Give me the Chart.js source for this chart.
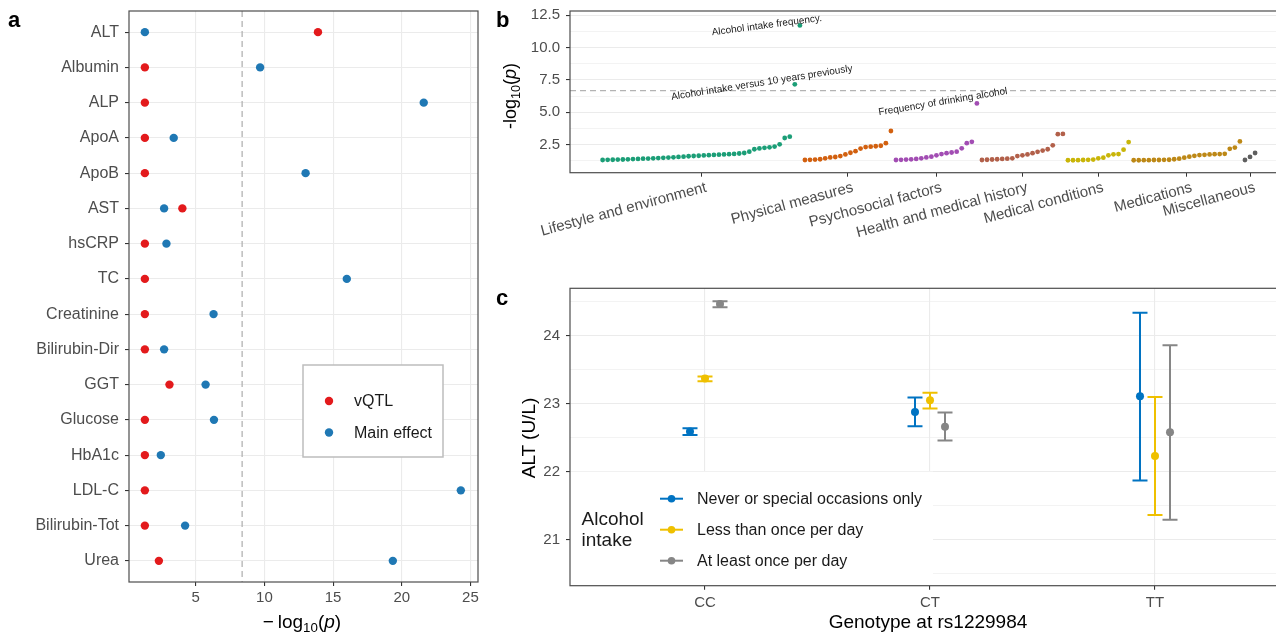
<!DOCTYPE html>
<html>
<head>
<meta charset="utf-8">
<script src="https://cdn.jsdelivr.net/npm/chart.js@4.4.1/dist/chart.umd.min.js"></script>
<style>
  html, body { margin: 0; padding: 0; background: #fff; overflow: hidden; width: 1276px; height: 633px; }
  body { position: relative; font-family: "Liberation Sans", Arial, Helvetica, sans-serif; }
  canvas { position: absolute; }
  .lbl { position: absolute; color: #000; white-space: nowrap; }
  .tag { font-weight: bold; font-size: 22px; line-height: 22px; }
  .ttl { font-size: 19px; line-height: 19px; transform: translate(-50%, -50%); }
  .rot { transform: translate(-50%, -50%) rotate(-90deg); }
  sub { font-size: 0.7em; vertical-align: -0.35em; line-height: 0; }
</style>
</head>
<body>
<canvas id="chartA" width="490" height="633" style="left:0;top:0"></canvas>
<canvas id="chartB" width="810" height="250" style="left:490px;top:0"></canvas>
<canvas id="chartC" width="810" height="353" style="left:490px;top:280px"></canvas>

<div class="lbl tag" style="left:8px;top:9px">a</div>
<div class="lbl tag" style="left:496px;top:9px">b</div>
<div class="lbl tag" style="left:496px;top:287px">c</div>

<div class="lbl ttl" style="left:302px;top:621px">&minus;&thinsp;log<sub>10</sub>(<i>p</i>)</div>
<div class="lbl ttl rot" style="left:510px;top:96px;font-size:18px">-log<sub>10</sub>(<i>p</i>)</div>
<div class="lbl ttl rot" style="left:528px;top:438px">ALT (U/L)</div>
<div class="lbl ttl" style="left:928px;top:621px">Genotype at rs1229984</div>

<script>
// ---------- panel a: vQTL vs main effect ----------
const traits = ['ALT', 'Albumin', 'ALP', 'ApoA', 'ApoB', 'AST', 'hsCRP', 'TC', 'Creatinine',
                'Bilirubin-Dir', 'GGT', 'Glucose', 'HbA1c', 'LDL-C', 'Bilirubin-Tot', 'Urea'];
const vqtlLogP = [13.9, 1.3, 1.3, 1.3, 1.3, 4.03, 1.3, 1.3, 1.3, 1.3, 3.09, 1.3, 1.3, 1.3, 1.3, 2.32];
const mainLogP = [1.3, 9.69, 21.6, 3.4, 13.0, 2.7, 2.87, 16.0, 6.3, 2.7, 5.72, 6.33, 2.46, 24.3, 4.23, 19.35];
const thresholdA = 8.38;
const seriesA = ['vQTL', 'Main effect'];

// ---------- panel b: PheWAS ----------
const phenoGroups = ['Lifestyle and environment', 'Physical measures', 'Psychosocial factors',
                     'Health and medical history', 'Medical conditions', 'Medications', 'Miscellaneous'];
const lifestyleP = [1.32, 1.33, 1.34, 1.35, 1.36, 1.37, 1.39, 1.40, 1.42, 1.43, 1.45, 1.47, 1.49, 1.51,
                    1.53, 1.56, 1.58, 1.61, 1.63, 1.65, 1.67, 1.69, 1.71, 1.73, 1.75, 1.77, 1.79, 1.82,
                    1.86, 1.96, 2.15, 2.21, 2.26, 2.30, 2.36, 2.53, 3.02, 3.12, 7.16, 11.71];
const physicalP = [1.32, 1.33, 1.35, 1.38, 1.45, 1.52, 1.55, 1.62, 1.75, 1.88, 2.00, 2.20, 2.32, 2.35,
                   2.38, 2.42, 2.62, 3.56];
const psychoP = [1.32, 1.33, 1.35, 1.37, 1.40, 1.45, 1.52, 1.58, 1.68, 1.78, 1.85, 1.90, 1.96, 2.22,
                 2.62, 2.72, 5.69];
const historyP = [1.32, 1.34, 1.36, 1.38, 1.40, 1.42, 1.45, 1.62, 1.68, 1.75, 1.85, 1.95, 2.05, 2.15,
                  2.45, 3.31, 3.33];
const conditionsP = [1.30, 1.30, 1.31, 1.32, 1.33, 1.35, 1.45, 1.50, 1.68, 1.76, 1.78, 2.12, 2.70];
const medicationsP = [1.30, 1.30, 1.31, 1.31, 1.32, 1.32, 1.33, 1.34, 1.38, 1.42, 1.50, 1.58, 1.64,
                      1.70, 1.72, 1.75, 1.77, 1.78, 1.80, 2.18, 2.28, 2.75];
const miscP = [1.32, 1.56, 1.86];
const thresholdB = 6.67;
const pointLabels = ['Alcohol intake versus 10 years previously', 'Alcohol intake frequency.',
                     'Frequency of drinking alcohol'];

// ---------- panel c: ALT by genotype and alcohol intake ----------
const genotypes = ['CC', 'CT', 'TT'];
const intakeGroups = ['Never or special occasions only', 'Less than once per day', 'At least once per day'];
const neverMean = [22.59, 22.88, 23.11];
const neverLow  = [22.54, 22.67, 21.87];
const neverHigh = [22.64, 23.09, 24.34];
const lessMean  = [23.37, 23.05, 22.23];
const lessLow   = [23.33, 22.93, 21.36];
const lessHigh  = [23.40, 23.16, 23.10];
const dailyMean = [24.47, 22.66, 22.58];
const dailyLow  = [24.42, 22.46, 21.29];
const dailyHigh = [24.51, 22.87, 23.86];

// ---------- shared look ----------
const FONT = '"Liberation Sans", Arial, Helvetica, sans-serif';
Chart.defaults.font.family = FONT;
Chart.defaults.color = '#4d4d4d';
const GRID = '#ebebeb';
const TICK = '#333333';

const panelBorder = {
    id: 'panelBorder',
    afterDraw(chart) {
        const { ctx, chartArea: a } = chart;
        ctx.save();
        ctx.strokeStyle = '#4d4d4d';
        ctx.lineWidth = 1.2;
        ctx.strokeRect(a.left, a.top, a.right - a.left, a.bottom - a.top);
        ctx.restore();
    }
};

function dashedLine(ctx, x1, y1, x2, y2) {
    ctx.save();
    ctx.strokeStyle = '#b3b3b3';
    ctx.lineWidth = 1.3;
    ctx.setLineDash([6, 4]);
    ctx.beginPath();
    ctx.moveTo(x1, y1);
    ctx.lineTo(x2, y2);
    ctx.stroke();
    ctx.restore();
}

function isMajor(v, step) {
    return Math.abs(v / step - Math.round(v / step)) < 1e-6;
}

// fixed axis boxes, no extra room for overhanging labels
function fixWidth(w) {
    return s => { s.width = w; s.paddingTop = 0; s.paddingBottom = 0; };
}
function fixHeight(h) {
    return s => { s.height = h; s.paddingLeft = 0; s.paddingRight = 0; };
}

// ==========================================
// panel a
// ==========================================
const refLineA = {
    id: 'refLineA',
    beforeDatasetsDraw(chart) {
        const { chartArea: a, scales: { x } } = chart;
        const px = x.getPixelForValue(thresholdA);
        dashedLine(chart.ctx, px, a.top, px, a.bottom);
    }
};

const legendA = {
    id: 'legendA',
    afterDraw(chart) {
        const ctx = chart.ctx;
        ctx.save();
        ctx.fillStyle = '#fff';
        ctx.strokeStyle = '#bdbdbd';
        ctx.lineWidth = 1.5;
        ctx.fillRect(303, 365, 140, 92);
        ctx.strokeRect(303, 365, 140, 92);
        ctx.font = '16px ' + FONT;
        ctx.textBaseline = 'middle';
        chart.data.datasets.forEach((ds, i) => {
            const y = 401 + i * 31.5;
            ctx.fillStyle = ds.backgroundColor;
            ctx.beginPath();
            ctx.arc(329, y, 4.2, 0, Math.PI * 2);
            ctx.fill();
            ctx.fillStyle = '#1a1a1a';
            ctx.fillText(ds.label, 354, y + 1);
        });
        ctx.restore();
    }
};

new Chart(document.getElementById('chartA'), {
    type: 'scatter',
    data: {
        datasets: [
            { label: seriesA[0], data: vqtlLogP.map((v, i) => ({ x: v, y: i + 1 })),
              backgroundColor: '#e31a1c', borderWidth: 0, pointRadius: 4.2 },
            { label: seriesA[1], data: mainLogP.map((v, i) => ({ x: v, y: i + 1 })),
              backgroundColor: '#1f78b4', borderWidth: 0, pointRadius: 4.2 }
        ]
    },
    options: {
        responsive: false,
        animation: false,
        layout: { autoPadding: false, padding: { left: 0, top: 11, right: 12, bottom: 0 } },
        plugins: { legend: { display: false }, tooltip: { enabled: false } },
        scales: {
            x: {
                type: 'linear', min: 0.145, max: 25.55,
                afterBuildTicks: s => { s.ticks = [5, 10, 15, 20, 25].map(v => ({ value: v })); },
                afterFit: fixHeight(51),
                grid: { color: GRID, lineWidth: 1.1, tickColor: TICK, tickLength: 4 },
                border: { display: false },
                ticks: { font: { size: 15 }, padding: 3, autoSkip: false, maxRotation: 0 }
            },
            y: {
                type: 'linear', reverse: true, min: 0.4, max: traits.length + 0.6,
                afterBuildTicks: s => { s.ticks = traits.map((t, i) => ({ value: i + 1 })); },
                afterFit: fixWidth(129),
                grid: { color: GRID, lineWidth: 1.1, tickColor: TICK, tickLength: 4 },
                border: { display: false },
                ticks: { font: { size: 16 }, padding: 6, autoSkip: false,
                         callback: v => traits[Math.round(v) - 1] }
            }
        }
    },
    plugins: [refLineA, legendA, panelBorder]
});

// ==========================================
// panel b
// ==========================================
const groupValues = [lifestyleP, physicalP, psychoP, historyP, conditionsP, medicationsP, miscP];
const groupColors = ['#1b9e77', '#d2600f', '#a24db3', '#b2604a', '#c9b508', '#bd8816', '#5f5f5f'];

// consecutive index along the x axis, group tick at the middle of each group
let offset = 0;
const groupCenters = [];
const datasetsB = groupValues.map((vals, g) => {
    const start = offset;
    offset += vals.length;
    groupCenters.push(start + (vals.length + 1) / 2);
    return {
        label: phenoGroups[g],
        data: vals.map((v, k) => ({ x: start + k + 1, y: v })),
        backgroundColor: groupColors[g],
        borderWidth: 0,
        pointRadius: 2.4
    };
});
const totalPoints = offset;

const refLineB = {
    id: 'refLineB',
    beforeDatasetsDraw(chart) {
        const { chartArea: a, scales: { y } } = chart;
        const py = y.getPixelForValue(thresholdB);
        dashedLine(chart.ctx, a.left, py, a.right, py);
    }
};

// labelled hits: [group, point index in group, dx, dy, angle]
const labelSpots = [[0, 38, -33, -1.5, 9], [0, 39, -33, 0, 7.5], [2, 16, -34, -1.5, 9.5]];
const pointLabelsB = {
    id: 'pointLabelsB',
    afterDatasetsDraw(chart) {
        const ctx = chart.ctx;
        ctx.save();
        ctx.font = '10px ' + FONT;
        ctx.fillStyle = '#1a1a1a';
        ctx.textAlign = 'center';
        ctx.textBaseline = 'middle';
        labelSpots.forEach((s, i) => {
            const pt = chart.getDatasetMeta(s[0]).data[s[1]];
            ctx.save();
            ctx.translate(pt.x + s[2], pt.y + s[3]);
            ctx.rotate(-s[4] * Math.PI / 180);
            ctx.fillText(pointLabels[i], 0, 0);
            ctx.restore();
        });
        ctx.restore();
    }
};

const padX = (totalPoints - 1) * 0.05;
new Chart(document.getElementById('chartB'), {
    type: 'scatter',
    data: { datasets: datasetsB },
    options: {
        responsive: false,
        animation: false,
        layout: { autoPadding: false, padding: { left: 0, top: 11, right: 12.3, bottom: 0 } },
        plugins: { legend: { display: false }, tooltip: { enabled: false } },
        scales: {
            x: {
                type: 'linear', min: 1 - padX, max: totalPoints + padX,
                afterBuildTicks: s => { s.ticks = groupCenters.map(v => ({ value: v })); },
                afterFit: fixHeight(77.3),
                grid: { drawOnChartArea: false, tickColor: TICK, tickLength: 4 },
                border: { display: false },
                ticks: { font: { size: 15 }, padding: 2, labelOffset: 5, autoSkip: false,
                         minRotation: 15, maxRotation: 15,
                         callback: (v, i) => phenoGroups[i] }
            },
            y: {
                type: 'linear', min: 0.34, max: 12.82,
                afterBuildTicks: s => {
                    s.ticks = [1.25, 2.5, 3.75, 5, 6.25, 7.5, 8.75, 10, 11.25, 12.5].map(v => ({ value: v }));
                },
                afterFit: fixWidth(80),
                grid: {
                    color: GRID,
                    lineWidth: c => (c.tick && isMajor(c.tick.value, 2.5) ? 1.1 : 0.6),
                    tickColor: c => (c.tick && isMajor(c.tick.value, 2.5) ? TICK : 'rgba(0,0,0,0)'),
                    tickLength: 4
                },
                border: { display: false },
                ticks: { font: { size: 15 }, padding: 6, autoSkip: false,
                         callback: v => (isMajor(v, 2.5) ? v.toFixed(1) : '') }
            }
        }
    },
    plugins: [refLineB, pointLabelsB, panelBorder]
});

// ==========================================
// panel c
// ==========================================
const intakeMeans = [neverMean, lessMean, dailyMean];
const intakeLows = [neverLow, lessLow, dailyLow];
const intakeHighs = [neverHigh, lessHigh, dailyHigh];
const intakeColors = ['#0073c2', '#efc000', '#868686'];
const dodge = 0.0667;

const datasetsC = intakeMeans.map((means, j) => ({
    label: intakeGroups[j],
    data: means.map((m, i) => ({ x: i + 1 + (j - 1) * dodge, y: m })),
    errLow: intakeLows[j],
    errHigh: intakeHighs[j],
    backgroundColor: intakeColors[j],
    borderColor: intakeColors[j],
    borderWidth: 0,
    pointRadius: 4
}));

const errorBars = {
    id: 'errorBars',
    beforeDatasetsDraw(chart) {
        const { ctx, scales: { y } } = chart;
        chart.data.datasets.forEach((ds, j) => {
            const meta = chart.getDatasetMeta(j);
            ctx.save();
            ctx.strokeStyle = ds.borderColor;
            ctx.lineWidth = 2;
            meta.data.forEach((pt, i) => {
                const lo = y.getPixelForValue(ds.errLow[i]);
                const hi = y.getPixelForValue(ds.errHigh[i]);
                ctx.beginPath();
                ctx.moveTo(pt.x, lo); ctx.lineTo(pt.x, hi);
                ctx.moveTo(pt.x - 7.5, lo); ctx.lineTo(pt.x + 7.5, lo);
                ctx.moveTo(pt.x - 7.5, hi); ctx.lineTo(pt.x + 7.5, hi);
                ctx.stroke();
            });
            ctx.restore();
        });
    }
};

const legendC = {
    id: 'legendC',
    afterDraw(chart) {
        const { ctx, chartArea: a } = chart;
        const top = a.bottom - 114;
        ctx.save();
        ctx.fillStyle = '#fff';
        ctx.fillRect(a.left, top, 363, a.bottom - top);
        ctx.fillStyle = '#1a1a1a';
        ctx.font = '19px ' + FONT;
        ctx.textBaseline = 'middle';
        ctx.fillText('Alcohol', a.left + 11.5, top + 48);
        ctx.fillText('intake', a.left + 11.5, top + 69);
        ctx.font = '16px ' + FONT;
        chart.data.datasets.forEach((ds, j) => {
            const y = top + 27 + j * 31;
            ctx.strokeStyle = ds.borderColor;
            ctx.lineWidth = 2;
            ctx.beginPath();
            ctx.moveTo(a.left + 90, y);
            ctx.lineTo(a.left + 113, y);
            ctx.stroke();
            ctx.fillStyle = ds.backgroundColor;
            ctx.beginPath();
            ctx.arc(a.left + 101.5, y, 3.8, 0, Math.PI * 2);
            ctx.fill();
            ctx.fillStyle = '#1a1a1a';
            ctx.fillText(ds.label, a.left + 127, y + 1);
        });
        ctx.restore();
    }
};

new Chart(document.getElementById('chartC'), {
    type: 'scatter',
    data: { datasets: datasetsC },
    options: {
        responsive: false,
        animation: false,
        layout: { autoPadding: false, padding: { left: 0, top: 8.3, right: 10, bottom: 0 } },
        plugins: { legend: { display: false }, tooltip: { enabled: false } },
        scales: {
            x: {
                type: 'linear', min: 0.4, max: genotypes.length + 0.6,
                afterBuildTicks: s => { s.ticks = genotypes.map((g, i) => ({ value: i + 1 })); },
                afterFit: fixHeight(47.3),
                grid: { color: GRID, lineWidth: 1.1, tickColor: TICK, tickLength: 4 },
                border: { display: false },
                ticks: { font: { size: 15 }, padding: 4, autoSkip: false, maxRotation: 0,
                         callback: v => genotypes[Math.round(v) - 1] }
            },
            y: {
                type: 'linear', min: 20.32, max: 24.70,
                afterBuildTicks: s => {
                    s.ticks = [20.5, 21, 21.5, 22, 22.5, 23, 23.5, 24, 24.5].map(v => ({ value: v }));
                },
                afterFit: fixWidth(80),
                grid: {
                    color: GRID,
                    lineWidth: c => (c.tick && isMajor(c.tick.value, 1) ? 1.1 : 0.6),
                    tickColor: c => (c.tick && isMajor(c.tick.value, 1) ? TICK : 'rgba(0,0,0,0)'),
                    tickLength: 4
                },
                border: { display: false },
                ticks: { font: { size: 15 }, padding: 6, autoSkip: false,
                         callback: v => (isMajor(v, 1) ? String(v) : '') }
            }
        }
    },
    plugins: [errorBars, legendC, panelBorder]
});
</script>
</body>
</html>
